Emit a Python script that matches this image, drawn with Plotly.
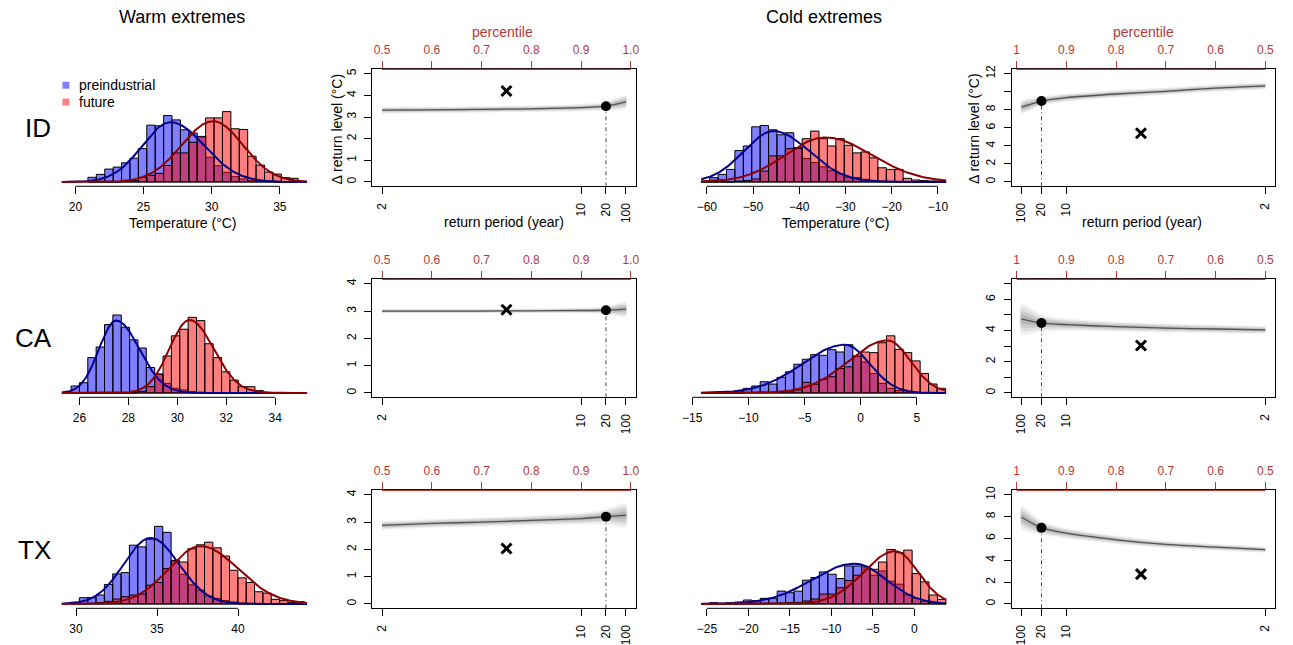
import numpy as np
import plotly.graph_objects as go

W, H = 1293, 645

# ---------------- histogram data (counts per bin) ----------------
# ID warm extremes
id_warm_bin_start, id_warm_bin_width = 20.92, 0.617
id_warm_pre = [14, 23, 39, 45, 58, 72, 101, 172, 170, 201, 188, 158, 148, 136, 75, 49, 29, 16, 9, 4, 2, 1, 0, 0, 0]
id_warm_fut = [0, 0, 0, 0, 2, 4, 14, 20, 26, 50, 88, 88, 120, 138, 194, 194, 213, 161, 159, 78, 51, 30, 24, 13, 11]
id_warm_pre_fit = (27.0, 2.1, 2.45, 181)   # mode, sd left, sd right, peak
id_warm_fut_fit = (30.1, 2.3, 2.2, 184)
id_warm_span = (19.0, 37.0)

# CA warm extremes
ca_warm_bin_start, ca_warm_bin_width = 25.66, 0.3415
ca_warm_pre = [21, 31, 107, 139, 207, 236, 199, 161, 136, 77, 57, 29, 14, 9, 4, 2, 1, 0, 0, 0, 0, 0, 0, 0, 0, 0, 0, 0]
ca_warm_fut = [0, 0, 0, 0, 0, 0, 0, 0, 5, 19, 57, 112, 173, 193, 229, 219, 149, 107, 64, 39, 19, 19, 7, 2, 1, 1, 0, 0]
ca_warm_pre_fit = (27.5, 0.7, 0.95, 219)
ca_warm_fut_fit = (30.5, 0.82, 0.98, 221)
ca_warm_span = (25.28, 35.3)

# TX warm extremes
tx_warm_bin_start, tx_warm_bin_width = 29.69, 0.515
tx_warm_pre = [5, 19, 19, 27, 59, 91, 95, 178, 173, 196, 235, 217, 130, 90, 58, 42, 24, 17, 10, 6, 3, 2, 1, 0, 0, 0, 0, 0]
tx_warm_fut = [0, 1, 2, 4, 8, 15, 22, 27, 30, 57, 65, 107, 132, 127, 167, 179, 187, 170, 145, 102, 79, 65, 37, 33, 14, 10, 5, 7]
tx_warm_pre_fit = (34.6, 1.65, 1.75, 200)
tx_warm_fut_fit = (37.7, 2.0, 2.3, 175)
tx_warm_span = (29.12, 44.26)

# ID cold extremes
id_cold_bin_start, id_cold_bin_width = -61.2, 1.82
id_cold_pre = [3, 13, 23, 38, 95, 109, 167, 171, 158, 143, 149, 104, 71, 59, 46, 34, 24, 14, 13, 8, 4, 2, 1, 0, 0, 0, 0, 0, 0]
id_cold_fut = [0, 0, 0, 0, 3, 4, 9, 33, 79, 79, 101, 101, 131, 154, 131, 109, 131, 111, 88, 91, 73, 43, 38, 38, 11, 6, 4, 3, 3]
id_cold_pre_fit = (-45.5, 6.5, 7.6, 154)
id_cold_fut_fit = (-34.3, 8.7, 10.0, 135)
id_cold_span = (-61.2, -8.2)

# CA cold extremes
ca_cold_bin_start, ca_cold_bin_width = -14.2, 0.75
ca_cold_pre = [1, 1, 2, 3, 5, 14, 21, 34, 27, 47, 64, 87, 102, 116, 114, 131, 124, 146, 111, 94, 59, 29, 14, 7, 3, 1, 0, 0, 0]
ca_cold_fut = [0, 0, 0, 0, 0, 1, 1, 2, 2, 3, 4, 9, 32, 26, 41, 49, 74, 79, 112, 124, 122, 152, 173, 132, 122, 97, 59, 27, 14]
ca_cold_pre_fit = (-1.4, 3.8, 2.2, 146)
ca_cold_fut_fit = (2.4, 3.5, 2.05, 159)
ca_cold_span = (-14.2, 7.62)

# TX cold extremes
tx_cold_bin_start, tx_cold_bin_width = -25.68, 1.017
tx_cold_pre = [2, 4, 2, 4, 6, 12, 10, 17, 17, 39, 34, 39, 72, 80, 97, 90, 77, 115, 115, 106, 87, 100, 69, 60, 27, 17, 8, 3, 1]
tx_cold_fut = [0, 0, 0, 0, 0, 1, 1, 2, 2, 3, 4, 5, 9, 15, 30, 30, 49, 71, 87, 112, 105, 127, 165, 155, 163, 92, 67, 27, 14]
tx_cold_pre_fit = (-7.2, 5.1, 3.8, 122)
tx_cold_fut_fit = (-2.3, 3.8, 2.75, 160)
tx_cold_span = (-25.68, 3.85)

# ---------------- return level data ----------------
rl_percentile = [0.5, 0.6, 0.7, 0.8, 0.9, 0.95, 0.99]
return_periods = [2, 10, 20, 100]

id_warm_rl = [3.32, 3.33, 3.35, 3.38, 3.43, 3.50, 3.70]
id_warm_rl_spread = [0.16, 0.15, 0.15, 0.15, 0.17, 0.20, 0.32]
id_warm_rl_obs, id_warm_rl_cross = 3.50, 4.20

ca_warm_rl = [3.00, 3.00, 3.00, 3.01, 3.02, 3.03, 3.07]
ca_warm_rl_spread = [0.08, 0.08, 0.08, 0.08, 0.10, 0.14, 0.28]
ca_warm_rl_obs, ca_warm_rl_cross = 3.03, 3.05

tx_warm_rl = [2.88, 2.95, 3.00, 3.06, 3.13, 3.20, 3.25]
tx_warm_rl_spread = [0.16, 0.16, 0.17, 0.18, 0.22, 0.28, 0.45]
tx_warm_rl_obs, tx_warm_rl_cross = 3.20, 2.03

id_cold_rl = [10.65, 10.40, 10.05, 9.75, 9.35, 8.97, 8.30]
id_cold_rl_spread = [0.40, 0.40, 0.40, 0.42, 0.45, 0.50, 0.75]
id_cold_rl_obs, id_cold_rl_cross = 8.97, 5.40

ca_cold_rl = [4.04, 4.10, 4.16, 4.25, 4.38, 4.48, 4.73]
ca_cold_rl_spread = [0.25, 0.27, 0.30, 0.33, 0.40, 0.55, 1.00]
ca_cold_rl_obs, ca_cold_rl_cross = 4.48, 3.04

tx_cold_rl = [4.97, 5.20, 5.45, 5.88, 6.48, 6.97, 7.94]
tx_cold_rl_spread = [0.28, 0.30, 0.33, 0.38, 0.48, 0.65, 1.10]
tx_cold_rl_obs, tx_cold_rl_cross = 6.97, 2.73

cross_percentile = 0.75
obs_percentile = 0.95

# ---------------- layout geometry (pixels) ----------------
col_px = [(43.4, 311), (367, 633), (689.4, 956.6), (1013, 1279)]
row_px = [(66, 184), (278, 397), (491, 610)]

FONT = "Liberation Sans"
RED = "#B83838"


def xdom(c):
    return [col_px[c][0] / W, col_px[c][1] / W]


def ydom(r):
    return [1 - row_px[r][1] / H, 1 - row_px[r][0] / H]


def sfx(i):
    return "" if i == 1 else str(i)


fig = go.Figure()
layout = dict(width=W, height=H, margin=dict(l=0, r=0, t=0, b=0),
              paper_bgcolor="white", plot_bgcolor="white", showlegend=False,
              barmode="overlay", font=dict(family=FONT, size=12, color="black"),
              shapes=[], annotations=[])


def two_piece(x, fit):
    m, sl, sr, pk = fit
    s = np.where(x < m, sl, sr)
    return pk * np.exp(-0.5 * ((x - m) / s) ** 2)


hist_panels = [
    (0, 0, id_warm_bin_start, id_warm_bin_width, id_warm_pre, id_warm_fut, id_warm_pre_fit, id_warm_fut_fit, id_warm_span, [20, 25, 30, 35]),
    (1, 0, ca_warm_bin_start, ca_warm_bin_width, ca_warm_pre, ca_warm_fut, ca_warm_pre_fit, ca_warm_fut_fit, ca_warm_span, [26, 28, 30, 32, 34]),
    (2, 0, tx_warm_bin_start, tx_warm_bin_width, tx_warm_pre, tx_warm_fut, tx_warm_pre_fit, tx_warm_fut_fit, tx_warm_span, [30, 35, 40]),
    (0, 2, id_cold_bin_start, id_cold_bin_width, id_cold_pre, id_cold_fut, id_cold_pre_fit, id_cold_fut_fit, id_cold_span, [-60, -50, -40, -30, -20, -10]),
    (1, 2, ca_cold_bin_start, ca_cold_bin_width, ca_cold_pre, ca_cold_fut, ca_cold_pre_fit, ca_cold_fut_fit, ca_cold_span, [-15, -10, -5, 0, 5]),
    (2, 2, tx_cold_bin_start, tx_cold_bin_width, tx_cold_pre, tx_cold_fut, tx_cold_pre_fit, tx_cold_fut_fit, tx_cold_span, [-25, -20, -15, -10, -5, 0]),
]

for (r, c, b0, bw, pre, fut, fpre, ffut, span, xt) in hist_panels:
    i = r * 4 + c + 1
    xa, ya = "x" + sfx(i), "y" + sfx(i)
    T = 3 * (row_px[r][1] - row_px[r][0]) / 1.08
    pad = 0.04 * (span[1] - span[0])
    xr = [span[0] - pad, span[1] + pad]
    centers = b0 + bw * (np.arange(len(pre)) + 0.5)
    for vals, col in ((pre, "rgba(0,0,255,0.5)"), (fut, "rgba(255,0,0,0.5)")):
        fig.add_trace(go.Bar(x=centers, y=vals, width=bw, xaxis=xa, yaxis=ya,
                             marker=dict(color=col, line=dict(color="black", width=1)),
                             hoverinfo="skip"))
    xs = np.linspace(span[0], span[1], 500)
    fig.add_trace(go.Scatter(x=xs, y=two_piece(xs, fpre), mode="lines", xaxis=xa, yaxis=ya,
                             line=dict(color="#00008B", width=2), hoverinfo="skip"))
    fig.add_trace(go.Scatter(x=xs, y=two_piece(xs, ffut), mode="lines", xaxis=xa, yaxis=ya,
                             line=dict(color="#8B0000", width=2), hoverinfo="skip"))
    layout["xaxis" + sfx(i)] = dict(domain=xdom(c), range=xr, anchor=ya, tickvals=xt,
                                    ticks="outside", ticklen=7, tickwidth=1, tickcolor="black",
                                    showline=False, showgrid=False, zeroline=False,
                                    tickfont=dict(size=12), ticklabelstandoff=2)
    layout["yaxis" + sfx(i)] = dict(domain=ydom(r), range=[-0.04 * T, 1.04 * T], anchor=xa,
                                    visible=False)
    layout["shapes"].append(dict(type="line", xref=xa, yref=f"{ya} domain",
                                 x0=xt[0], x1=xt[-1], y0=0, y1=0,
                                 line=dict(color="black", width=1)))

rl_panels = [
    (0, 1, id_warm_rl, id_warm_rl_spread, id_warm_rl_obs, id_warm_rl_cross, [-0.2, 5.2], [0, 1, 2, 3, 4, 5], None, False),
    (1, 1, ca_warm_rl, ca_warm_rl_spread, ca_warm_rl_obs, ca_warm_rl_cross, [-0.16, 4.16], [0, 1, 2, 3, 4], None, False),
    (2, 1, tx_warm_rl, tx_warm_rl_spread, tx_warm_rl_obs, tx_warm_rl_cross, [-0.16, 4.16], [0, 1, 2, 3, 4], None, False),
    (0, 3, id_cold_rl, id_cold_rl_spread, id_cold_rl_obs, id_cold_rl_cross, [-0.48, 12.48], [0, 2, 4, 6, 8, 10, 12], ["0", "2", "4", "6", "8", "", "12"], True),
    (1, 3, ca_cold_rl, ca_cold_rl_spread, ca_cold_rl_obs, ca_cold_rl_cross, [-0.28, 7.28], [0, 1, 2, 3, 4, 5, 6, 7], ["0", "", "2", "", "4", "", "6", ""], True),
    (2, 3, tx_cold_rl, tx_cold_rl_spread, tx_cold_rl_obs, tx_cold_rl_cross, [-0.4, 10.4], [0, 2, 4, 6, 8, 10], None, True),
]

top_idx = 13
p = np.array(rl_percentile)
rp_pos = [1 - 1 / t for t in return_periods]
for (r, c, cen, spr, obs, cross, yr, yt, ytt, rev) in rl_panels:
    i = r * 4 + c + 1
    xa, ya = "x" + sfx(i), "y" + sfx(i)
    cen = np.array(cen)
    spr = np.array(spr)
    for frac, alpha in ((1.0, 0.05), (0.75, 0.07), (0.5, 0.09), (0.25, 0.10)):
        hi = cen + spr * frac
        lo = cen - spr * frac
        fig.add_trace(go.Scatter(x=list(p) + list(p[::-1]), y=list(hi) + list(lo[::-1]),
                                 mode="lines", fill="toself", fillcolor=f"rgba(0,0,0,{alpha})",
                                 line=dict(width=0, shape="spline", smoothing=0.6),
                                 xaxis=xa, yaxis=ya, hoverinfo="skip"))
    fig.add_trace(go.Scatter(x=p, y=cen, mode="lines", xaxis=xa, yaxis=ya,
                             line=dict(color="#555555", width=1.3, shape="spline", smoothing=0.6),
                             hoverinfo="skip"))
    fig.add_trace(go.Scatter(x=[obs_percentile, obs_percentile], y=[yr[0], obs], mode="lines",
                             xaxis=xa, yaxis=ya,
                             line=dict(color="#444444", width=1, dash="4px,3px,1px,3px"),
                             hoverinfo="skip"))
    fig.add_trace(go.Scatter(x=[obs_percentile], y=[obs], mode="markers", xaxis=xa, yaxis=ya,
                             marker=dict(symbol="circle", size=10, color="black"), hoverinfo="skip"))
    fig.add_trace(go.Scatter(x=[cross_percentile], y=[cross], mode="markers", xaxis=xa, yaxis=ya,
                             marker=dict(symbol="x-thin", size=10, color="black",
                                         line=dict(color="black", width=3)), hoverinfo="skip"))
    xr = [1.0096, 0.4804] if rev else [0.4804, 1.0096]
    layout["xaxis" + sfx(i)] = dict(domain=xdom(c), range=xr, anchor=ya, tickvals=rp_pos,
                                    ticktext=[str(t) for t in return_periods], tickangle=-90,
                                    ticks="outside", ticklen=7, tickcolor="black",
                                    showline=True, mirror=True, linecolor="black", linewidth=1,
                                    showgrid=False, zeroline=False, tickfont=dict(size=12),
                                    ticklabelstandoff=4)
    ydict = dict(domain=ydom(r), range=yr, anchor=xa, tickvals=yt, tickangle=-90,
                 ticks="outside", ticklen=7, tickcolor="black",
                 showline=True, mirror=True, linecolor="black", linewidth=1,
                 showgrid=False, zeroline=False, tickfont=dict(size=12), ticklabelstandoff=4)
    if ytt is not None:
        ydict["ticktext"] = ytt
    layout["yaxis" + sfx(i)] = ydict
    # top percentile axis
    tvals = [0.5, 0.6, 0.7, 0.8, 0.9, 1.0]
    ttext = ["0.5", "0.6", "0.7", "0.8", "0.9", "1.0"]
    if rev:
        tvals = tvals[::-1]
        ttext = ["1", "0.9", "0.8", "0.7", "0.6", "0.5"]
    ta = f"x{top_idx}"
    layout[f"xaxis{top_idx}"] = dict(overlaying=xa, side="top", anchor=ya, range=xr,
                                     tickvals=tvals, ticktext=ttext, ticks="outside", ticklen=7,
                                     tickcolor=RED, tickwidth=1.2, showline=False, showgrid=False,
                                     zeroline=False, tickfont=dict(size=12, color=RED),
                                     ticklabelstandoff=3)
    fig.add_trace(go.Scatter(x=[0.75], y=[yr[0]], mode="markers", xaxis=ta, yaxis=ya,
                             marker=dict(opacity=0), hoverinfo="skip"))
    layout["shapes"].append(dict(type="line", xref=xa, yref=f"{ya} domain",
                                 x0=0.5, x1=1.0, y0=1, y1=1,
                                 line=dict(color=RED, width=1.3)))
    top_idx += 1

ann = layout["annotations"]


def text(x, y, s, size, color="black", angle=0):
    ann.append(dict(x=x / W, y=1 - y / H, xref="paper", yref="paper", text=s, showarrow=False,
                    font=dict(size=size, color=color, family=FONT), textangle=angle,
                    xanchor="center", yanchor="middle"))


text(175, 13, "Warm extremes", 18)
text(823, 13, "Cold extremes", 18)
text(29, 125, "ID", 26)
text(25, 337, "CA", 26)
text(26, 551, "TX", 26)
text(176, 221, "Temperature (°C)", 14)
text(835, 221, "Temperature (°C)", 14)
text(500, 220, "return period (year)", 14)
text(1145, 220, "return period (year)", 14)
text(499, 28, "percentile", 14, RED)
text(1146, 28, "percentile", 14, RED)
text(331, 126, "Δ return level (°C)", 14, angle=-90)
text(975, 126, "Δ return level (°C)", 14, angle=-90)

# legend
for yy, col, lab in ((82, "rgba(0,0,255,0.5)", "preindustrial"), (99, "rgba(255,0,0,0.5)", "future")):
    layout["shapes"].append(dict(type="rect", xref="paper", yref="paper",
                                 x0=54 / W, x1=61 / W, y0=1 - (yy + 3.5) / H, y1=1 - (yy - 3.5) / H,
                                 fillcolor=col, line=dict(width=0)))
    ann.append(dict(x=69 / W, y=1 - yy / H, xref="paper", yref="paper", text=lab, showarrow=False,
                    font=dict(size=14, family=FONT), xanchor="left", yanchor="middle"))

fig.update_layout(**layout)
fig.write_html("out.html", config={"displayModeBar": False},
               post_script="document.body.style.margin='0px';document.body.style.overflow='hidden';")
